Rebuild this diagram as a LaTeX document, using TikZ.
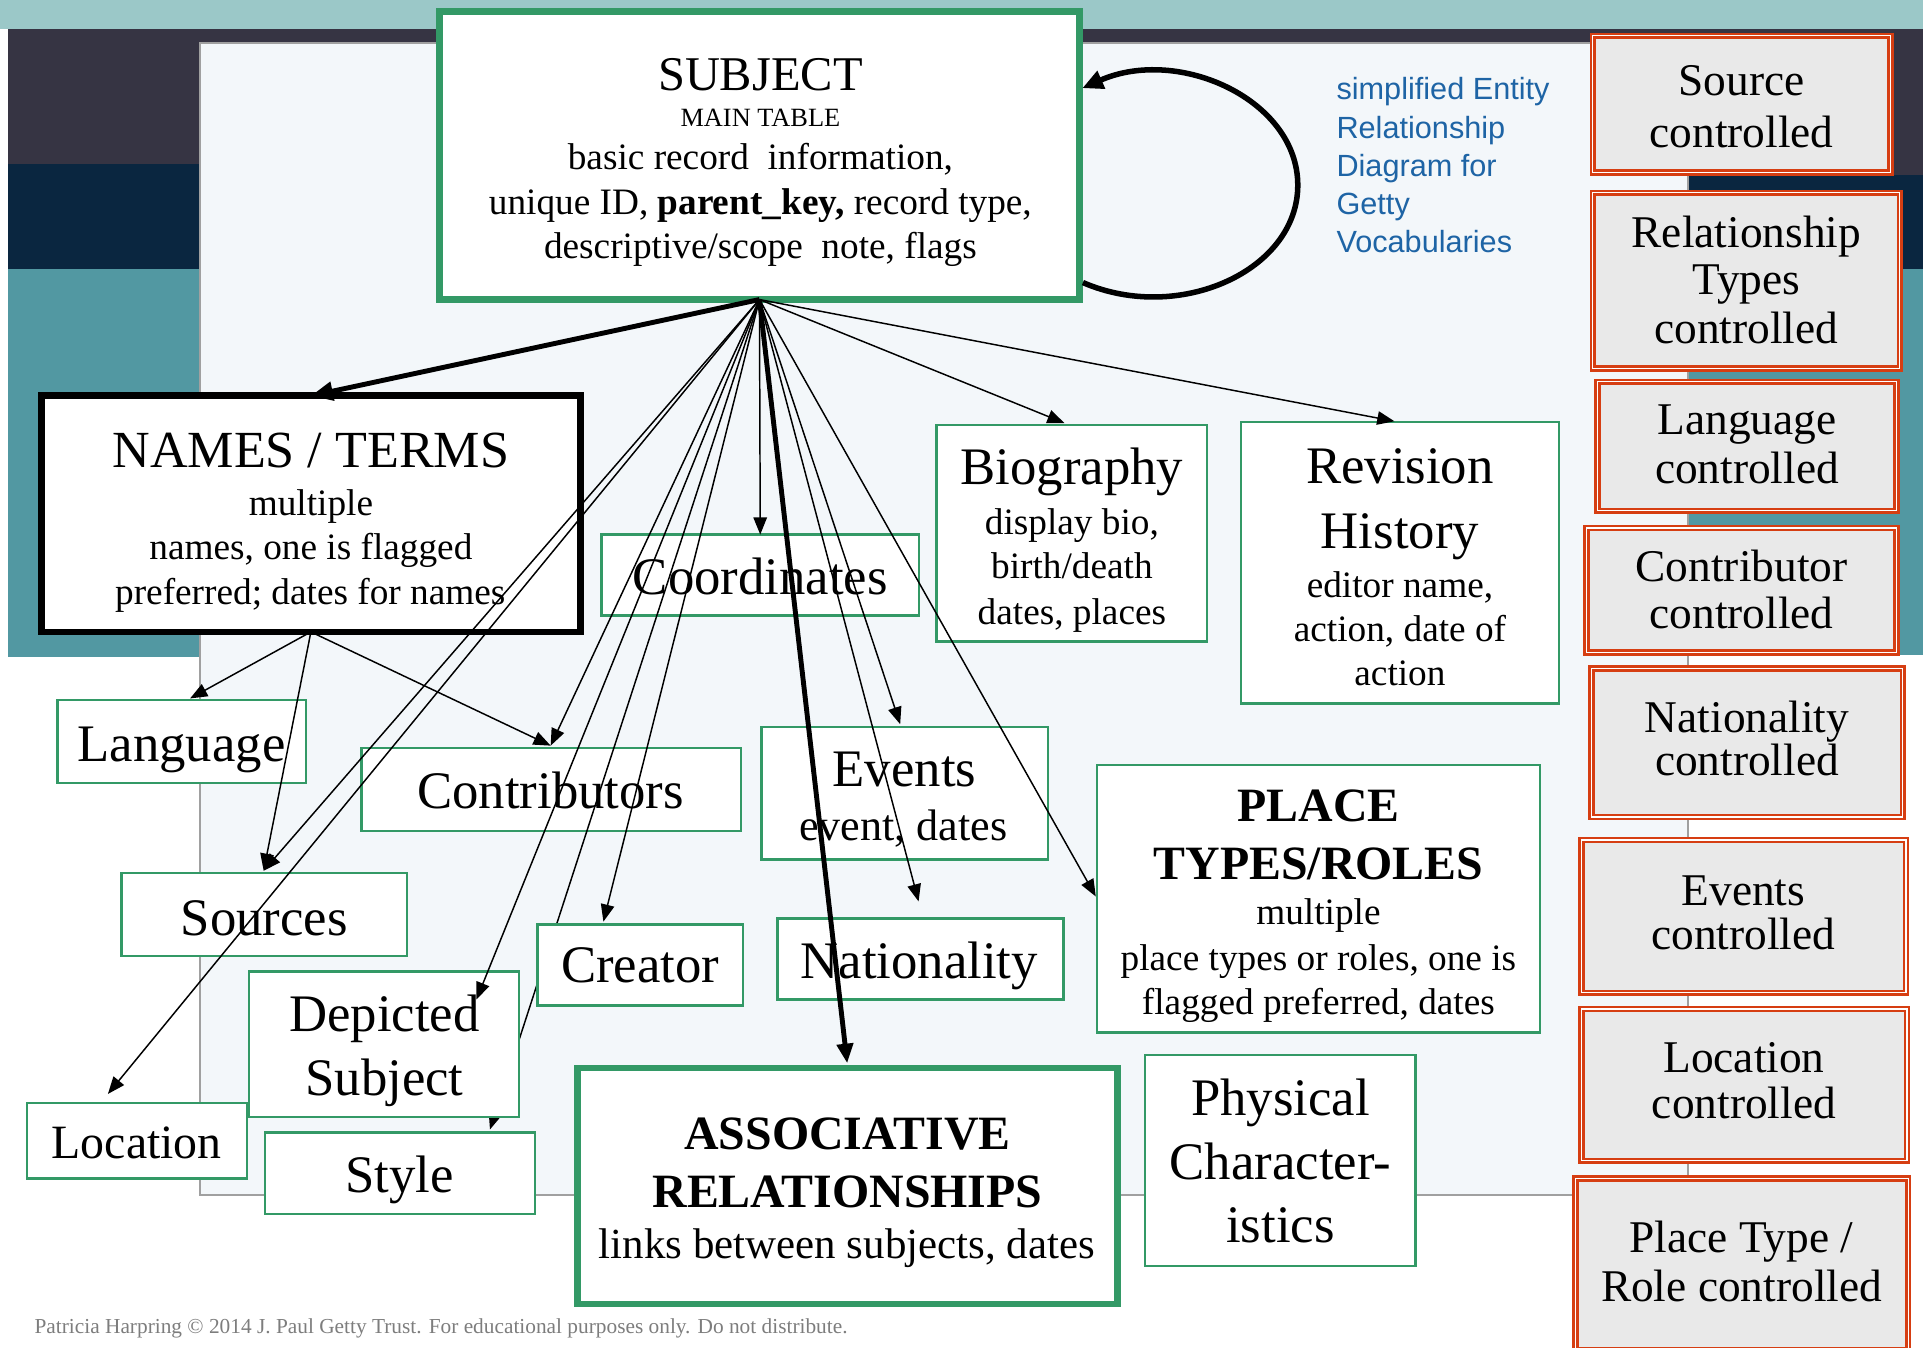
\documentclass[tikz,border=0pt]{standalone}
\usepackage{fontspec}
\setmainfont{Liberation Serif}
\newfontfamily\bluesans{Liberation Sans}
\usetikzlibrary{arrows.meta}
\definecolor{topteal}{RGB}{155,200,200}
\definecolor{darkband}{RGB}{54,52,67}
\definecolor{navyband}{RGB}{10,38,64}
\definecolor{tealband}{RGB}{82,152,162}
\definecolor{panelbg}{RGB}{243,247,250}
\definecolor{panelline}{RGB}{160,160,160}
\definecolor{gboxc}{RGB}{51,153,102}
\definecolor{redc}{RGB}{214,62,18}
\definecolor{rfill}{RGB}{233,233,233}
\definecolor{bluetxt}{RGB}{30,100,165}
\definecolor{footc}{RGB}{125,125,125}
\newcommand{\fsz}[1]{\fontsize{#1}{#1}\selectfont}
\begin{document}
\begin{tikzpicture}[x=1pt,y=-1pt,
  gbox/.style={draw=gboxc, line width=2pt, fill=white, rectangle, inner sep=0pt, outer sep=0pt},
  gthick/.style={gbox, line width=5.5pt},
  bthick/.style={draw=black, line width=5.5pt, fill=white, rectangle, inner sep=0pt, outer sep=0pt},
  rbox/.style={draw=redc, double=white, double distance=1.1pt, line width=2pt, fill=rfill, rectangle, inner sep=0pt, outer sep=0pt},
  txt/.style={anchor=base, inner sep=0pt, outer sep=0pt},
  btxt/.style={anchor=base west, inner sep=0pt, outer sep=0pt, text=bluetxt, font=\bluesans\fsz{25}},
  conn/.style={line width=1.2pt, -{Triangle[length=14pt,width=11pt]}},
  thickconn/.style={line width=4pt, -{Triangle[length=18pt,width=15pt]}},
]
\useasboundingbox (0,0) rectangle (1568,1099);
\clip (0,0) rectangle (1568,1099);
% background
\fill[topteal] (0,0) rectangle (1568,24);
\fill[darkband] (6.5,24) rectangle (1568,143);
\fill[navyband] (6.5,134) rectangle (163,219);
\fill[navyband] (1376,143) rectangle (1568,219);
\fill[tealband] (6.5,219) rectangle (163,536);
\fill[tealband] (1376,219) rectangle (1568,534);
\draw[panelline, line width=1.5pt, fill=panelbg] (163,35) rectangle (1376.5,974.6);

% main boxes
\node[gthick, minimum width=522pt, minimum height=235.1pt] (subj) at (619.25,126.7) {};
\node[bthick, minimum width=439.5pt, minimum height=192.5pt] (names) at (253.5,419) {};
\node[gthick, minimum width=440.1pt, minimum height=192.5pt] (assoc) at (691.2,967) {};
\node[gbox, minimum width=259.2pt, minimum height=65.9pt] (coord) at (619.9,468.85) {};
\node[gbox, minimum width=220.5pt, minimum height=176.5pt] (bio) at (873.75,434.75) {};
\node[gbox, minimum width=259.3pt, minimum height=229.7pt] (rev) at (1141.35,458.85) {};
\node[gbox, minimum width=202.8pt, minimum height=67.8pt] (lang) at (148.3,604.5) {};
\node[gbox, minimum width=309.4pt, minimum height=67.8pt] (contrib) at (449.3,643.9) {};
\node[gbox, minimum width=233.4pt, minimum height=107.9pt] (events) at (737.7,646.75) {};
\node[gbox, minimum width=361.2pt, minimum height=218.4pt] (place) at (1075,732.8) {};
\node[gbox, minimum width=233.1pt, minimum height=67.7pt] (sources) at (215.45,745.85) {};
\node[gbox, minimum width=233pt, minimum height=66pt] (nat) at (750.5,782) {};
\node[gbox, minimum width=179.2pt, minimum height=61.3pt] (loc) at (111.6,930.15) {};
\node[gbox, minimum width=220.2pt, minimum height=66.4pt] (style) at (326.3,956.6) {};
\node[gbox, minimum width=220.5pt, minimum height=172pt] (phys) at (1043.75,946.4) {};

% controlled boxes
\node[rbox, minimum width=242.8pt, minimum height=111.5pt] (src) at (1420,84.85) {};
\node[rbox, minimum width=250.4pt, minimum height=143.3pt] (rel) at (1423.8,228.75) {};
\node[rbox, minimum width=243.8pt, minimum height=105.1pt] (langc) at (1424.5,363.85) {};
\node[rbox, minimum width=252.8pt, minimum height=101.6pt] (contc) at (1420,481.2) {};
\node[rbox, minimum width=253.8pt, minimum height=121pt] (natc) at (1424.5,605.6) {};
\node[rbox, minimum width=264.4pt, minimum height=124.4pt] (evc) at (1421.8,747.2) {};
\node[rbox, minimum width=265.3pt, minimum height=123.8pt] (locc) at (1422.25,884.5) {};
\node[rbox, minimum width=271.3pt, minimum height=140pt] (ptc) at (1420.25,1031) {};

% arrow tips
\coordinate (tipBio) at (868,345);
\coordinate (tipRev) at (1137,343.5);
\coordinate (tipAssoc) at (690.8,867);
\coordinate (tipEv) at (734,590.5);
\coordinate (tipNat) at (749,735);
\coordinate (tipPlace) at (893.5,731);
\coordinate (tipCre) at (492,751.5);
\coordinate (tipDep) at (388.5,815);
\coordinate (tipCon) at (449,608);
\coordinate (tipSrc) at (215,710);
\coordinate (tipLoc) at (88,892);
\coordinate (tipLang) at (155,569.5);
\coordinate (tipSty) at (399.5,921);
\coordinate (loopA) at (883,230.4);
\coordinate (loopB) at (882.5,71.9);

% line hidden behind Creator and Depicted boxes
\draw[conn] (subj.south) -- (tipSty);
\node[gbox, minimum width=167.3pt, minimum height=66pt] (creator) at (522.05,786.8) {};
\node[gbox, minimum width=220.2pt, minimum height=119pt] (depicted) at (313.3,851.5) {};

% connectors
\draw[thickconn] (subj.south) -- (names.north);
\draw[conn] (subj.south) -- (coord.north);
\draw[conn] (subj.south) -- (tipBio);
\draw[conn] (subj.south) -- (tipRev);
\draw[line width=4pt, -{Triangle[length=16pt,width=13pt]}] (subj.south) -- (tipAssoc);
\draw[conn] (subj.south) -- (tipEv);
\draw[conn] (subj.south) -- (tipNat);
\draw[conn] (subj.south) -- (tipPlace);
\draw[conn] (subj.south) -- (tipCre);
\draw[conn] (subj.south) -- (tipDep);
\draw[conn] (subj.south) -- (tipCon);
\draw[conn] (subj.south) -- (tipSrc);
\draw[conn] (subj.south) -- (tipLoc);
\draw[conn] (names.south) -- (tipLang);
\draw[conn] (names.south) -- (tipCon);
\draw[conn] (names.south) -- (tipSrc);
\draw[line width=4.5pt, -{Triangle[length=17pt,width=15pt]}] (loopA) .. controls (961.4,264.4) and (1058.2,220.6) .. (1058.2,151) .. controls (1058.2,81.2) and (960.9,37.4) .. (loopB);

% texts: SUBJECT
\node[txt, font=\fsz{39.5}] (subjT1) at (620,73.5) {SUBJECT};
\node[txt, font=\fsz{21.5}] (subjT2) at (620,103.5) {MAIN TABLE};
\node[txt, font=\fsz{30.4}] (subjT3) at (620,138.5) {basic record\ \ information,};
\node[txt, font=\fsz{30.4}] (subjT4) at (620,174.5) {unique ID, \textbf{parent\_key,} record type,};
\node[txt, font=\fsz{30.4}] (subjT5) at (620,210.5) {descriptive/scope\ \ note, flags};
% NAMES
\node[txt, font=\fsz{42.5}] (namesT1) at (253.5,381) {NAMES / TERMS};
\node[txt, font=\fsz{30.4}] (namesT2) at (253.5,420) {multiple};
\node[txt, font=\fsz{30.4}] (namesT3) at (253.5,456) {names, one is flagged};
\node[txt, font=\fsz{30.4}] (namesT4) at (253,492.5) {preferred; dates for names};
% simple boxes
\node[txt, font=\fsz{43}] (coordT) at (620,484.5) {Coordinates};
\node[txt, font=\fsz{43}] (bioT1) at (874,395) {Biography};
\node[txt, font=\fsz{30.4}] (bioT2) at (874,436) {display bio,};
\node[txt, font=\fsz{30.4}] (bioT3) at (874,472) {birth/death};
\node[txt, font=\fsz{30.4}] (bioT4) at (874,509) {dates, places};
\node[txt, font=\fsz{43}] (revT1) at (1141.5,394) {Revision};
\node[txt, font=\fsz{43}] (revT2) at (1141.5,447) {History};
\node[txt, font=\fsz{30.4}] (revT3) at (1141.5,487) {editor name,};
\node[txt, font=\fsz{30.4}] (revT4) at (1141.5,523) {action, date of};
\node[txt, font=\fsz{30.4}] (revT5) at (1141.5,559) {action};
\node[txt, font=\fsz{43}] (langT) at (148,621) {Language};
\node[txt, font=\fsz{43}] (contribT) at (449,659) {Contributors};
\node[txt, font=\fsz{43}] (eventsT1) at (737.5,641.5) {Events};
\node[txt, font=\fsz{36}] (eventsT2) at (736.5,685.5) {event, dates};
\node[txt, font=\bfseries\fsz{39}] (placeT1) at (1075,669.5) {PLACE};
\node[txt, font=\bfseries\fsz{39}] (placeT2) at (1075,717) {TYPES/ROLES};
\node[txt, font=\fsz{30.4}] (placeT3) at (1075,753.5) {multiple};
\node[txt, font=\fsz{30.4}] (placeT4) at (1075,791) {place types or roles, one is};
\node[txt, font=\fsz{30.4}] (placeT5) at (1075,827) {flagged preferred, dates};
\node[txt, font=\fsz{43}] (sourcesT) at (215.5,762.5) {Sources};
\node[txt, font=\fsz{43}] (creatorT) at (522,801.5) {Creator};
\node[txt, font=\fsz{43}] (natT) at (749.5,798) {Nationality};
\node[txt, font=\fsz{43}] (depT1) at (313.5,841) {Depicted};
\node[txt, font=\fsz{43}] (depT2) at (313.5,893) {Subject};
\node[txt, font=\fsz{39}] (locT) at (111.5,944.8) {Location};
\node[txt, font=\fsz{43}] (styleT) at (326,972) {Style};
\node[txt, font=\bfseries\fsz{39}] (assocT1) at (691,937) {ASSOCIATIVE};
\node[txt, font=\bfseries\fsz{39}] (assocT2) at (691,984.6) {RELATIONSHIPS};
\node[txt, font=\fsz{35}] (assocT3) at (690.5,1026.5) {links between subjects, dates};
\node[txt, font=\fsz{43}] (physT1) at (1044,909.4) {Physical};
\node[txt, font=\fsz{43}] (physT2) at (1044,962) {Character-};
\node[txt, font=\fsz{43}] (physT3) at (1044,1013.2) {istics};
% controlled texts
\node[txt, font=\fsz{37}] (srcT1) at (1420,77.5) {Source};
\node[txt, font=\fsz{37}] (srcT2) at (1420,120) {controlled};
\node[txt, font=\fsz{37}] (relT1) at (1424,201.5) {Relationship};
\node[txt, font=\fsz{37}] (relT2) at (1424,240) {Types};
\node[txt, font=\fsz{37}] (relT3) at (1424,280) {controlled};
\node[txt, font=\fsz{37}] (langcT1) at (1424.5,354.1) {Language};
\node[txt, font=\fsz{37}] (langcT2) at (1424.5,394.5) {controlled};
\node[txt, font=\fsz{37}] (contcT1) at (1420,473.8) {Contributor};
\node[txt, font=\fsz{37}] (contcT2) at (1420,512.7) {controlled};
\node[txt, font=\fsz{37}] (natcT1) at (1424.5,597) {Nationality};
\node[txt, font=\fsz{37}] (natcT2) at (1424.5,632.5) {controlled};
\node[txt, font=\fsz{37}] (evcT1) at (1421.5,738.5) {Events};
\node[txt, font=\fsz{37}] (evcT2) at (1421.5,774.3) {controlled};
\node[txt, font=\fsz{37}] (loccT1) at (1422,874.5) {Location};
\node[txt, font=\fsz{37}] (loccT2) at (1422,912) {controlled};
\node[txt, font=\fsz{37}] (ptcT1) at (1420,1021.5) {Place Type /};
\node[txt, font=\fsz{37}] (ptcT2) at (1420,1061) {Role controlled};
% blue caption
\node[btxt] (blue1) at (1089.8,81.3) {simplified Entity};
\node[btxt] (blue2) at (1089.8,113) {Relationship};
\node[btxt] (blue3) at (1089.8,144) {Diagram for};
\node[btxt] (blue4) at (1089.8,175) {Getty};
\node[btxt] (blue5) at (1089.8,205.7) {Vocabularies};
% footer
\node[anchor=base west, inner sep=0pt, text=footc, font=\fsz{17.4}] (foot) at (28,1087.4) {Patricia Harpring © 2014 J. Paul Getty Trust. For educational purposes only. Do not distribute.};
\end{tikzpicture}
\end{document}
